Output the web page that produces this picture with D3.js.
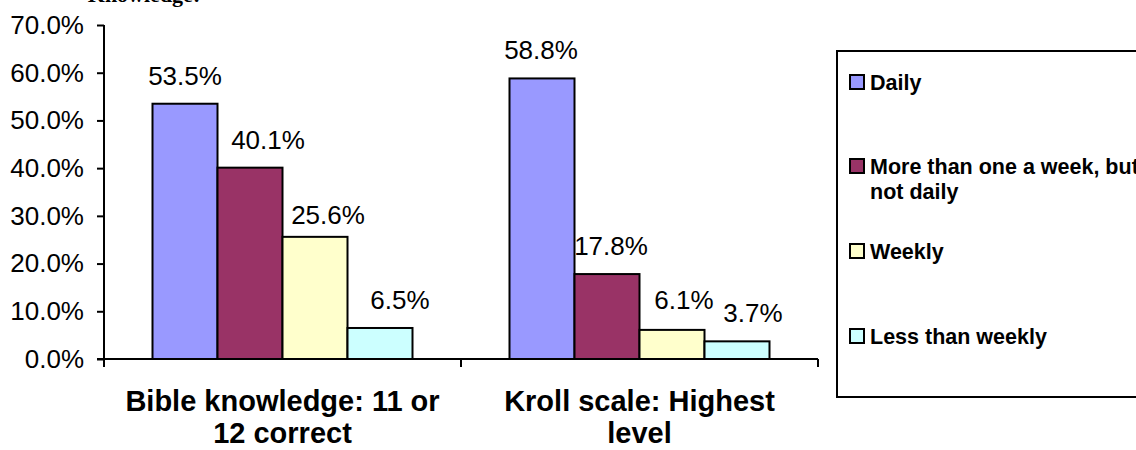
<!DOCTYPE html>
<html><head><meta charset="utf-8">
<script src="https://cdn.jsdelivr.net/npm/d3@7"></script>
<style>body{margin:0;background:#fff}svg{display:block}</style>
</head><body>
<script>
const categories = [["Bible knowledge: 11 or","12 correct"],["Kroll scale: Highest","level"]];
const seriesNames = ["Daily","More than one a week, but|not daily","Weekly","Less than weekly"];
const seriesColors = ["#9999FF","#993366","#FFFFCC","#CCFFFF"];
const daily = [53.5, 58.8];
const moreThanOnce = [40.1, 17.8];
const weekly = [25.6, 6.1];
const lessThanWeekly = [6.5, 3.7];
const yTicks = [0,10,20,30,40,50,60,70];
const series = [daily, moreThanOnce, weekly, lessThanWeekly];

// layout: hand-placed label nudges as in the original [series][category] = [dx, dy]
const labelNudge = [[[0,0],[-1,0]],[[18,0],[4,0]],[[13,6],[12,-2]],[[20,0],[16,0]]];

const W=1136,H=450;
const svg=d3.select("body").append("svg").attr("width",W).attr("height",H);
const x0=104,x1=818,yTop=25,yBot=359;
const y=d3.scaleLinear().domain([0,70]).range([yBot,yTop]);
const xb=d3.scaleBand().domain(d3.range(categories.length)).range([x0,x1]);
const xi=d3.scaleBand().domain(d3.range(series.length)).range([48.5,xb.bandwidth()-48.5]);

// cut-off title (clipped in the original as well)
svg.append("text").attr("x",144).attr("y",2).attr("text-anchor","middle")
  .style("font-family","Liberation Serif").style("font-weight","bold").style("font-size","22px").text("Knowledge:");

// bars
series.forEach((s,si)=>{
  s.forEach((v,ci)=>{
    const bx=xb(ci)+xi(si);
    svg.append("rect").attr("x",bx).attr("y",y(v)).attr("width",xi.bandwidth()).attr("height",y(0)-y(v))
      .attr("fill",seriesColors[si]).attr("stroke","#000").attr("stroke-width",2);
    const [dx,dy]=labelNudge[si][ci];
    svg.append("text").attr("x",bx+xi.bandwidth()/2+dx).attr("y",y(v)-19+dy).attr("text-anchor","middle")
      .style("font-family","Liberation Sans").style("font-size","26px").text(v.toFixed(1)+"%");
  });
});

// y axis
const ya=svg.append("g").attr("transform",`translate(${x0},0)`)
  .call(d3.axisLeft(y).tickValues(yTicks).tickSize(7).tickPadding(13).tickFormat(d=>d.toFixed(1)+"%"));
ya.selectAll("text").style("font-family","Liberation Sans").style("font-size","26px").attr("fill","#000");
ya.selectAll("line").attr("stroke","#000").attr("stroke-width",2);
ya.select(".domain").attr("d",`M0,${yTop}V${yBot}`).attr("stroke","#000").attr("stroke-width",2);

// x axis
const xa=svg.append("g").attr("transform",`translate(0,${yBot})`);
xa.append("line").attr("x1",x0-7).attr("x2",x1).attr("y1",0).attr("y2",0).attr("stroke","#000").attr("stroke-width",2);
const bounds=[...xb.domain().map(d=>xb(d)),x1];
xa.selectAll(".xt").data(bounds).join("line").attr("x1",d=>d).attr("x2",d=>d).attr("y1",0).attr("y2",8)
  .attr("stroke","#000").attr("stroke-width",2);
categories.forEach((lines,ci)=>{
  const cx=xb(ci)+xb.bandwidth()/2;
  const t=xa.append("text").attr("x",cx).attr("y",52).attr("text-anchor","middle")
    .style("font-family","Liberation Sans").style("font-weight","bold").style("font-size","29px");
  lines.forEach((l,li)=>t.append("tspan").attr("x",cx).attr("dy",li?32:0).text(l));
});

// legend
const lg=svg.append("g");
lg.append("rect").attr("x",837).attr("y",51).attr("width",320).attr("height",346).attr("fill","#fff").attr("stroke","#000").attr("stroke-width",2);
const legY=[82,166,251,336];
seriesNames.forEach((n,i)=>{
  const parts=n.split("|");
  const cy=legY[i];
  lg.append("rect").attr("x",850).attr("y",cy-7).attr("width",14).attr("height",14)
    .attr("fill",seriesColors[i]).attr("stroke","#000").attr("stroke-width",2);
  const t=lg.append("text").attr("x",870).attr("y",cy+7.5)
    .style("font-family","Liberation Sans").style("font-weight","bold").style("font-size","21.5px");
  parts.forEach((p,pi)=>t.append("tspan").attr("x",870).attr("dy",pi?25:0).text(p));
});
</script>
</body></html>
